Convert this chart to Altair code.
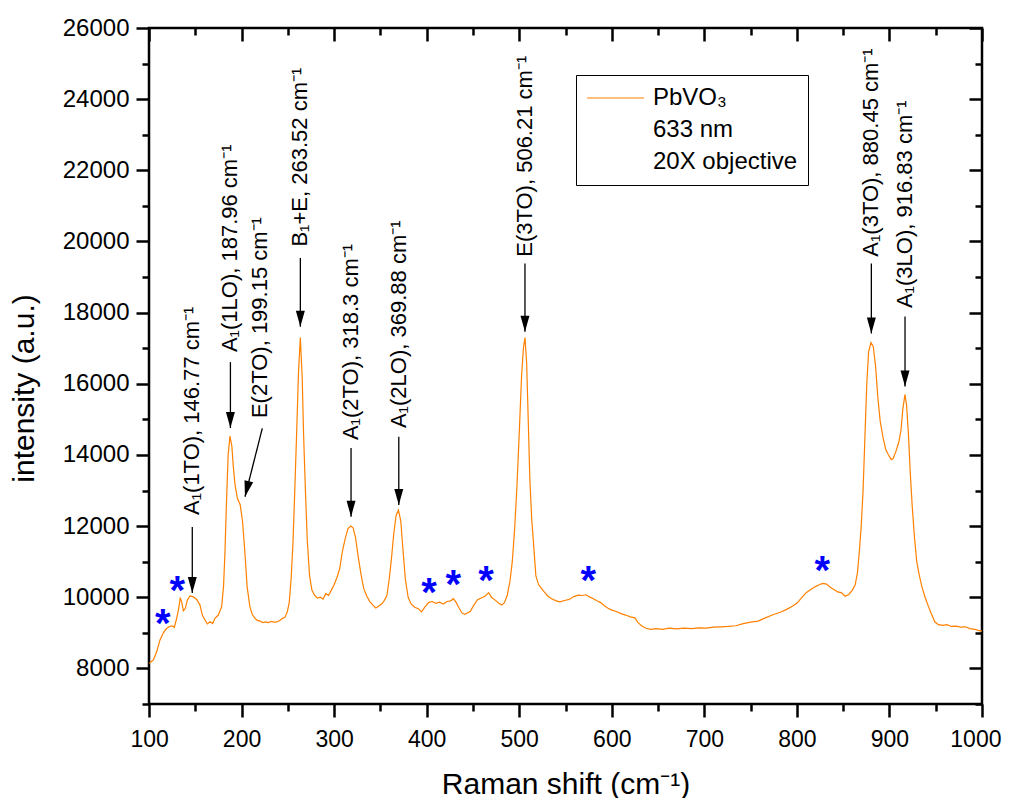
import altair as alt
import pandas as pd

# ---------------- data ----------------
shift = [100, 101.1, 104.7, 108.3, 111.9, 115.5, 118.5, 120.9, 123.5, 125.6, 127.4, 129.9, 132.1, 133.8,
         135.7, 137.1, 139.3, 141.4, 144.3, 147.9, 151.5, 155.1, 157.6, 160.5, 163, 165.9, 168.8, 171.3,
         174.9, 178.5, 180.5, 182, 183.5, 185.5, 187.5, 189.5, 191, 193, 195.5, 198.5, 201, 203.5, 206,
         209, 211.5, 214.5, 217, 220, 223, 226, 229, 232, 235, 238, 241, 244, 247, 249.5, 251.5, 253.5,
         255.5, 257.5, 259.5, 261.5, 263.5, 265.5, 267, 269, 271, 273.5, 276, 279, 282, 285, 288, 291,
         294, 297, 300, 303, 306, 309, 312, 315, 318, 320.5, 323, 326, 329, 332, 335, 338.5, 342, 345,
         348, 351, 354, 357, 359.5, 362, 364.5, 367, 369.5, 372, 374.5, 377, 380, 383, 387, 391, 394.5,
         398, 402, 406, 410, 414, 418, 422, 426, 429, 432, 435, 438, 441, 444, 447, 451, 455, 459, 463,
         467, 470, 474, 478, 481, 484, 487, 490, 492.5, 495, 497.5, 500, 502.5, 504.5, 506.2, 508, 509.5,
         511.5, 513.5, 515.5, 518, 521, 524, 527, 531, 535, 540, 544, 549, 554, 559, 564, 568, 572, 576,
         580, 584, 588, 592, 596, 600, 605, 610, 615, 620, 625, 628, 632, 637, 642, 648, 655, 662, 670,
         678, 686, 694, 702, 710, 718, 726, 734, 742, 750, 758, 766, 774, 782, 789, 795, 800, 805, 810,
         815, 820, 824, 828, 832, 836, 840, 844, 848, 852, 856, 860, 863, 865.5, 867.5, 869.5, 871.5,
         873.5, 875.5, 877.5, 880, 882.5, 885, 887.5, 890, 893, 896, 899, 902, 904, 907, 910, 912.5,
         914.5, 916.8, 918.5, 920.5, 922.5, 924.5, 927, 929.5, 932, 935, 938.5, 942, 945, 949, 953, 958,
         962, 967, 972, 977, 982, 987, 992, 996, 1000]
intensity = [8150, 8160, 8240, 8470, 8800, 9000, 9110, 9155, 9190, 9190, 9150, 9410, 9690, 9990,
             9830, 9620, 9690, 9920, 10035, 10010, 9940, 9780, 9500, 9360, 9250, 9310, 9260, 9410,
             9500, 9735, 10300, 11200, 12500, 14000, 14530, 14250, 13700, 13150, 12780, 12600, 12150, 11300, 10300,
             9735, 9520, 9410, 9350, 9330, 9290, 9310, 9290, 9320, 9300, 9310, 9340, 9400, 9440, 9600, 9850, 10500,
             11500, 13000, 14600, 16300, 17300, 16200, 14600, 13000, 11600, 10600, 10200, 10050, 9980, 10000, 9950, 10100,
             10050, 10200, 10350, 10550, 10800, 11300, 11650, 11930, 12000, 11950, 11700, 11150, 10650, 10250, 10050, 9880, 9780, 9700,
             9750, 9800, 9900, 10050, 10500, 11100, 11800, 12300, 12450, 12150, 11300, 10500, 10000, 9820, 9720, 9680, 9590,
             9720, 9850, 9880, 9830, 9860, 9810, 9880, 9900, 9960, 9850, 9700, 9560, 9520, 9560, 9600, 9780, 9930, 9980, 10030,
             10130, 10000, 9920, 9830, 9780, 9850, 10050, 10450, 11000, 11900, 13100, 14600, 16200, 17000, 17300, 16600, 15200,
             13300, 12200, 11500, 10600, 10350, 10250, 10150, 10030, 9960, 9900, 9870, 9910, 9940, 10020, 10060, 10050, 10070, 10010,
             9960, 9900, 9850, 9760, 9690, 9640, 9600, 9540, 9500, 9450, 9420, 9300, 9200, 9130, 9100, 9120, 9100, 9130, 9110,
             9130, 9120, 9140, 9130, 9160, 9170, 9180, 9200, 9260, 9300, 9330, 9420, 9510, 9580, 9660, 9750, 9830, 9980, 10130,
             10220, 10300, 10350, 10390, 10370, 10280, 10220, 10150, 10130, 10030, 10080, 10200, 10350, 10700, 11300, 12000, 13000,
             14500, 16000, 16900, 17160, 17050, 16500, 15600, 14950, 14500, 14150, 14000, 13870, 13900, 14100, 14350, 14700,
             15300, 15700, 15400, 14600, 13500, 12600, 11700, 11000, 10650, 10300, 10000, 9750, 9550, 9310, 9230, 9210,
             9230, 9180, 9190, 9160, 9170, 9120, 9100, 9070, 9050]

peak_text = ["A\u2081(1TO), 146.77 cm\u207b\u00b9", "A\u2081(1LO), 187.96 cm\u207b\u00b9",
             "E(2TO), 199.15 cm\u207b\u00b9", "B\u2081+E, 263.52 cm\u207b\u00b9",
             "A\u2081(2TO), 318.3 cm\u207b\u00b9", "A\u2081(2LO), 369.88 cm\u207b\u00b9",
             "E(3TO), 506.21 cm\u207b\u00b9", "A\u2081(3TO), 880.45 cm\u207b\u00b9",
             "A\u2081(3LO), 916.83 cm\u207b\u00b9"]
peak_text_x = [146.77, 187.96, 219.9, 263.52, 318.3, 369.88, 506.21, 880.45, 916.83]
peak_text_y = [12311, 16891, 15037, 19856, 14418, 14756, 19570, 19570, 18128]

arrow_x = [146.77, 187.96, 222.4, 263.52, 318.3, 369.88, 506.21, 880.45, 916.83]
arrow_y = [11975, 16610, 14747, 19533, 14194, 14511, 19384, 19384, 17890]
arrow_x2 = [146.77, 187.96, 203.7, 263.52, 318.3, 369.88, 506.21, 880.45, 916.83]
arrow_y2 = [10120, 14756, 12825, 17602, 12263, 12592, 17464, 17416, 15924]
head_angle = [0, 0, 14, 0, 0, 0, 0, 0, 0]

star_x = [114.8, 130.6, 402.5, 428.8, 464.1, 574.6, 827.4]
star_y = [9501, 10437, 10383, 10597, 10700, 10700, 10982]

legend_entries = ["PbVO\u2083", "633 nm", "20X objective"]

x_major = list(range(100, 1001, 100))
x_minor = list(range(150, 1000, 100))
y_major = list(range(8000, 26001, 2000))
y_minor = list(range(7000, 26000, 2000))

X_DOMAIN = [100, 1000]
Y_DOMAIN = [7000, 26000]

FONT = "Liberation Sans"
ORANGE = "#FF8000"

# ---------------- tables ----------------
spec_df = pd.DataFrame({"shift": shift, "intensity": intensity, "series": legend_entries[0]})
arrow_df = pd.DataFrame({"ax": arrow_x, "ay": arrow_y, "ax2": arrow_x2, "ay2": arrow_y2,
                         "angle": head_angle})
label_df = pd.DataFrame({"lx": peak_text_x, "ly": peak_text_y, "text": peak_text})
star_df = pd.DataFrame({"sx": star_x, "sy": star_y})

xs = alt.Scale(domain=X_DOMAIN, nice=False, zero=False)
ys = alt.Scale(domain=Y_DOMAIN, nice=False, zero=False)

def hidden_axis(orient, values, size, offset=0):
    return alt.Axis(orient=orient, values=values, tickSize=size, offset=offset, labels=False,
                    domain=False, grid=False, title=None)

line = alt.Chart(spec_df).mark_line(strokeWidth=1.2).encode(
    x=alt.X("shift:Q", scale=xs,
            axis=alt.Axis(orient="bottom", values=x_major, tickSize=13, labelFontSize=23,
                          labelPadding=11, labelFlush=True, labelFlushOffset=19,
                          labelOverlap=False, format="d",
                          title="Raman shift (cm\u207b\u00b9)", titleFontSize=30, titlePadding=18)),
    y=alt.Y("intensity:Q", scale=ys,
            axis=alt.Axis(orient="left", values=y_major, tickSize=13, labelFontSize=24,
                          labelPadding=7, labelFlush=False, labelOverlap=False, format="d",
                          title="intensity (a.u.)", titleFontSize=30, titlePadding=23, titleY=360)),
    color=alt.Color("series:N",
                    scale=alt.Scale(domain=legend_entries, range=[ORANGE, "transparent", "transparent"]),
                    legend=alt.Legend(title=None, orient="none", legendX=427, legendY=47,
                                      symbolType="stroke", symbolSize=3249, symbolStrokeWidth=1.2,
                                      clipHeight=26, rowPadding=6, labelOffset=8, labelFontSize=24,
                                      labelFont=FONT, labelColor="black", padding=10,
                                      strokeColor="black", fillColor="white")),
)

arrows = alt.Chart(arrow_df).mark_rule(color="black", strokeWidth=1.3).encode(
    x=alt.X("ax:Q", scale=xs, axis=hidden_axis("bottom", x_minor, 7)),
    y=alt.Y("ay:Q", scale=ys, axis=hidden_axis("left", y_minor, 7)),
    x2="ax2:Q", y2="ay2:Q",
)

heads = alt.Chart(arrow_df).mark_point(
    shape="M-0.28,-1L0.28,-1L0,0Z", size=1024, filled=True, color="black", opacity=1, strokeWidth=0
).encode(
    x=alt.X("ax2:Q", scale=xs, axis=hidden_axis("top", x_major, 13, -13)),
    y=alt.Y("ay2:Q", scale=ys, axis=hidden_axis("right", y_major, 13, -13)),
    angle=alt.Angle("angle:Q", scale=None),
)

stars = alt.Chart(star_df).mark_text(
    text="*", font=FONT, fontSize=40, fontWeight="bold", color="#0000FF",
    baseline="alphabetic", align="center", dy=22
).encode(
    x=alt.X("sx:Q", scale=xs, axis=hidden_axis("top", x_minor, 7, -7)),
    y=alt.Y("sy:Q", scale=ys, axis=hidden_axis("right", y_minor, 7, -7)),
)

labels = alt.Chart(label_df).mark_text(
    angle=270, align="left", baseline="middle", font=FONT, fontSize=22, color="black"
).encode(
    x=alt.X("lx:Q", scale=xs, axis=None),
    y=alt.Y("ly:Q", scale=ys, axis=None),
    text="text:N",
)

chart = alt.layer(line, arrows, heads, stars, labels).resolve_axis(
    x="independent", y="independent"
).properties(
    width=833, height=676,
    autosize=alt.AutoSizeParams(type="none"),
    padding={"left": 141, "top": 20, "right": 22, "bottom": 94},
    background="white",
).configure_view(
    stroke="black", strokeWidth=2.5
).configure_axis(
    grid=False, domain=False, tickColor="black", tickWidth=2.5, labelColor="black",
    titleColor="black", labelFont=FONT, titleFont=FONT, titleFontWeight="normal"
)

chart.save("out.html", embed_options={"renderer": "svg", "actions": False})
